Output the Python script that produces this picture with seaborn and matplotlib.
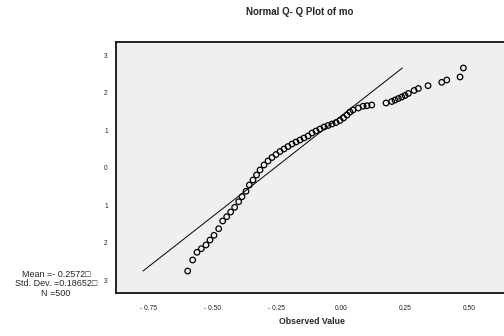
import matplotlib
matplotlib.use("Agg")
import matplotlib.pyplot as plt
import numpy as np
import pandas as pd
import seaborn as sns

# Observed values of mo and their expected normal scores
observed = [
    -0.597, -0.5775, -0.5607, -0.544, -0.5257, -0.5101, -0.4945, -0.4762,
    -0.4607, -0.4451, -0.4295, -0.4139, -0.3984, -0.3855, -0.3699, -0.3571,
    -0.3427, -0.329, -0.3154, -0.2998, -0.2843, -0.2687, -0.2531, -0.2375,
    -0.222, -0.2064, -0.1908, -0.1752, -0.1597, -0.1441, -0.1285, -0.1129,
    -0.0974, -0.0818, -0.0662, -0.0506, -0.035, -0.0195, -0.0039, 0.0097,
    0.0234, 0.035, 0.0467, 0.0674, 0.0857, 0.1012, 0.1195, 0.1752, 0.1974,
    0.2103, 0.2231, 0.2364, 0.2492, 0.2621, 0.2843, 0.301, 0.3388, 0.3921,
    0.4116, 0.4634, 0.4762,
]
expected = [
    -2.755, -2.461, -2.256, -2.16, -2.061, -1.928, -1.803, -1.627,
    -1.421, -1.307, -1.181, -1.056, -0.907, -0.773, -0.629, -0.461,
    -0.328, -0.195, -0.061, 0.072, 0.179, 0.272, 0.352, 0.432,
    0.499, 0.565, 0.632, 0.685, 0.739, 0.792, 0.845, 0.925,
    0.979, 1.032, 1.085, 1.125, 1.165, 1.205, 1.259, 1.325,
    1.405, 1.485, 1.539, 1.592, 1.64, 1.653, 1.672, 1.725, 1.765,
    1.805, 1.845, 1.885, 1.925, 1.979, 2.059, 2.112, 2.187, 2.277,
    2.339, 2.419, 2.659,
]

mean_mo = -0.2572
sd_mo = 0.18652
n_mo = 500

x_ticks = [-0.75, -0.50, -0.25, 0.00, 0.25, 0.50]
x_tick_labels = ["- 0.75", "- 0.50", "- 0.25", "0.00", "0.25", "0.50"]
y_ticks = [3, 2, 1, 0, -1, -2, -3]
y_tick_labels = ["3", "2", "1", "0", "1", "2", "3"]

sns.set_style("white")
plt.rcParams["font.family"] = ["Liberation Sans", "DejaVu Sans"]

df = pd.DataFrame({"observed": observed, "expected": expected})

fig = plt.figure(figsize=(5.04, 3.36), dpi=100)
ax = fig.add_axes([116 / 504, 43 / 336, 392 / 504, 251 / 336])
ax.set_facecolor("#efefef")

# Normal reference line through mean and standard deviation
z_lo, z_hi = min(expected), max(expected)
line_df = pd.DataFrame({
    "x": [mean_mo + sd_mo * z_lo, mean_mo + sd_mo * z_hi],
    "z": [z_lo, z_hi],
})
sns.lineplot(data=line_df, x="x", y="z", ax=ax, color="black",
             linewidth=0.7, sort=False)

sns.scatterplot(data=df, x="observed", y="expected", ax=ax, marker="o",
                s=16, linewidth=0.9)
coll = ax.collections[-1]
coll.set_facecolor("none")
coll.set_edgecolor("black")

ax.set_xlim(-0.876, 0.650)
ax.set_ylim(-3.341, 3.352)

ax.set_xticks(x_ticks)
ax.set_xticklabels(x_tick_labels)
ax.set_yticks(y_ticks)
ax.set_yticklabels(y_tick_labels)
ax.tick_params(axis="both", direction="out", length=4, width=0.8,
               labelsize=4.8, colors="#222222")
ax.tick_params(axis="x", pad=5)
ax.tick_params(axis="y", pad=2)

for side in ["left", "top", "bottom"]:
    ax.spines[side].set_visible(True)
    ax.spines[side].set_color("black")
    ax.spines[side].set_linewidth(1.2)
ax.spines["right"].set_visible(False)

ax.set_xlabel("Observed Value", fontsize=6.3, fontweight="bold", labelpad=3)
ax.set_ylabel("")

fig.text(300 / 504, 1 - 12 / 336, "Normal Q- Q Plot of mo", ha="center",
         va="center", fontsize=7, fontweight="bold")

fig.text(56 / 504, 1 - 284 / 336,
         f"Mean =- {abs(mean_mo):.4f}\u25a1\nStd. Dev. ={sd_mo:.5f}\u25a1\nN ={n_mo}",
         ha="center", va="center", fontsize=6.5, linespacing=1.05)

fig.savefig("out.png", dpi=100)
